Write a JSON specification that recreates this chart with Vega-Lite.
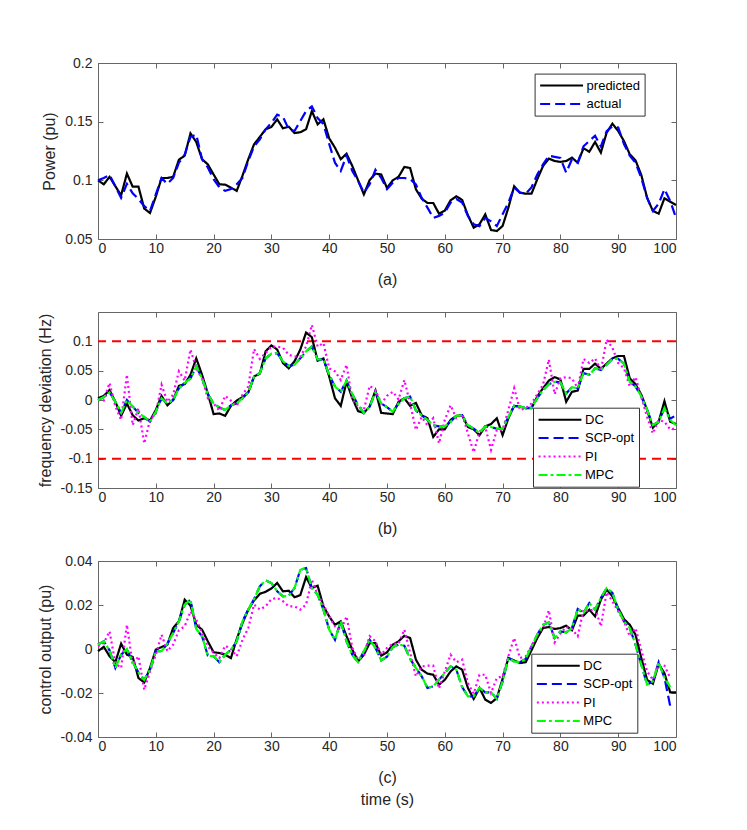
{
  "$schema": "https://vega.github.io/schema/vega-lite/v6.json",
  "background": "white",
  "padding": {"left": 36, "top": 55, "right": 10, "bottom": 10},
  "config": {
    "font": "Liberation Sans",
    "view": {"stroke": "#666666", "strokeWidth": 1},
    "axis": {
      "grid": false,
      "domain": false,
      "tickSize": -5,
      "tickColor": "#666666",
      "tickWidth": 1,
      "labelFontSize": 14,
      "labelColor": "#262626",
      "labelFont": "Liberation Sans",
      "titleFont": "Liberation Sans",
      "titleFontSize": 16,
      "titleFontWeight": "normal",
      "titleColor": "#262626"
    },
    "axisX": {"labelPadding": 7, "titlePadding": 16, "titleLineHeight": 22},
    "axisY": {"labelPadding": 11, "titlePadding": 7},
    "legend": {
      "orient": "none",
      "symbolType": "M-3.3,0H3.3",
      "symbolSize": 169,
      "symbolStrokeWidth": 2,
      "symbolOffset": 15,
      "labelFontSize": 13,
      "labelColor": "#000000",
      "labelOffset": 17.5,
      "padding": 4.5,
      "rowPadding": 3.4,
      "strokeColor": "#333333",
      "fillColor": "#ffffff"
    }
  },
  "datasets": {
    "power": [
      {"t":0,"predicted":0.1,"actual":0.1},
      {"t":1,"predicted":0.0966,"actual":0.102},
      {"t":2,"predicted":0.103,"actual":0.1045},
      {"t":3,"predicted":0.095,"actual":0.095},
      {"t":4,"predicted":0.0872,"actual":0.085},
      {"t":5,"predicted":0.1057,"actual":0.097},
      {"t":6,"predicted":0.0946,"actual":0.089},
      {"t":7,"predicted":0.0946,"actual":0.084},
      {"t":8,"predicted":0.0759,"actual":0.078},
      {"t":9,"predicted":0.0722,"actual":0.074},
      {"t":10,"predicted":0.086,"actual":0.088},
      {"t":11,"predicted":0.102,"actual":0.102},
      {"t":12,"predicted":0.102,"actual":0.097},
      {"t":13,"predicted":0.103,"actual":0.102},
      {"t":14,"predicted":0.1176,"actual":0.115},
      {"t":15,"predicted":0.121,"actual":0.122},
      {"t":16,"predicted":0.14,"actual":0.137},
      {"t":17,"predicted":0.1327,"actual":0.139},
      {"t":18,"predicted":0.118,"actual":0.118},
      {"t":19,"predicted":0.1136,"actual":0.111},
      {"t":20,"predicted":0.105,"actual":0.101},
      {"t":21,"predicted":0.0966,"actual":0.094},
      {"t":22,"predicted":0.0963,"actual":0.091},
      {"t":23,"predicted":0.0938,"actual":0.0925},
      {"t":24,"predicted":0.091,"actual":0.0966},
      {"t":25,"predicted":0.104,"actual":0.102},
      {"t":26,"predicted":0.118,"actual":0.1165},
      {"t":27,"predicted":0.1307,"actual":0.129},
      {"t":28,"predicted":0.137,"actual":0.135},
      {"t":29,"predicted":0.1435,"actual":0.1435},
      {"t":30,"predicted":0.1455,"actual":0.149},
      {"t":31,"predicted":0.152,"actual":0.156},
      {"t":32,"predicted":0.1443,"actual":0.154},
      {"t":33,"predicted":0.1457,"actual":0.1435},
      {"t":34,"predicted":0.1403,"actual":0.142},
      {"t":35,"predicted":0.141,"actual":0.1505},
      {"t":36,"predicted":0.1435,"actual":0.159},
      {"t":37,"predicted":0.159,"actual":0.163},
      {"t":38,"predicted":0.1477,"actual":0.153},
      {"t":39,"predicted":0.152,"actual":0.148},
      {"t":40,"predicted":0.1358,"actual":0.131},
      {"t":41,"predicted":0.1278,"actual":0.115},
      {"t":42,"predicted":0.118,"actual":0.108},
      {"t":43,"predicted":0.1227,"actual":0.121},
      {"t":44,"predicted":0.1122,"actual":0.108},
      {"t":45,"predicted":0.1,"actual":0.0995},
      {"t":46,"predicted":0.088,"actual":0.0895},
      {"t":47,"predicted":0.1003,"actual":0.0966},
      {"t":48,"predicted":0.1057,"actual":0.109},
      {"t":49,"predicted":0.105,"actual":0.102},
      {"t":50,"predicted":0.0935,"actual":0.0925},
      {"t":51,"predicted":0.1,"actual":0.098},
      {"t":52,"predicted":0.103,"actual":0.102},
      {"t":53,"predicted":0.1114,"actual":0.102},
      {"t":54,"predicted":0.1105,"actual":0.101},
      {"t":55,"predicted":0.0924,"actual":0.0966},
      {"t":56,"predicted":0.0844,"actual":0.085},
      {"t":57,"predicted":0.0807,"actual":0.0767},
      {"t":58,"predicted":0.0807,"actual":0.068},
      {"t":59,"predicted":0.0716,"actual":0.0697},
      {"t":60,"predicted":0.0742,"actual":0.0725},
      {"t":61,"predicted":0.083,"actual":0.081},
      {"t":62,"predicted":0.0864,"actual":0.084},
      {"t":63,"predicted":0.0833,"actual":0.081},
      {"t":64,"predicted":0.0702,"actual":0.0697},
      {"t":65,"predicted":0.0597,"actual":0.0625},
      {"t":66,"predicted":0.0625,"actual":0.061},
      {"t":67,"predicted":0.071,"actual":0.068},
      {"t":68,"predicted":0.0577,"actual":0.065},
      {"t":69,"predicted":0.0568,"actual":0.061},
      {"t":70,"predicted":0.0611,"actual":0.071},
      {"t":71,"predicted":0.0767,"actual":0.081},
      {"t":72,"predicted":0.0949,"actual":0.0938},
      {"t":73,"predicted":0.0895,"actual":0.0895},
      {"t":74,"predicted":0.0886,"actual":0.0886},
      {"t":75,"predicted":0.0886,"actual":0.094},
      {"t":76,"predicted":0.1009,"actual":0.105},
      {"t":77,"predicted":0.1122,"actual":0.1136},
      {"t":78,"predicted":0.1185,"actual":0.121},
      {"t":79,"predicted":0.1165,"actual":0.12},
      {"t":80,"predicted":0.1157,"actual":0.119},
      {"t":81,"predicted":0.1165,"actual":0.1066},
      {"t":82,"predicted":0.1193,"actual":0.118},
      {"t":83,"predicted":0.115,"actual":0.115},
      {"t":84,"predicted":0.1273,"actual":0.129},
      {"t":85,"predicted":0.1244,"actual":0.1335},
      {"t":86,"predicted":0.1327,"actual":0.138},
      {"t":87,"predicted":0.1236,"actual":0.129},
      {"t":88,"predicted":0.1406,"actual":0.142},
      {"t":89,"predicted":0.1483,"actual":0.146},
      {"t":90,"predicted":0.142,"actual":0.145},
      {"t":91,"predicted":0.1335,"actual":0.131},
      {"t":92,"predicted":0.1222,"actual":0.121},
      {"t":93,"predicted":0.117,"actual":0.115},
      {"t":94,"predicted":0.1045,"actual":0.102},
      {"t":95,"predicted":0.0852,"actual":0.085},
      {"t":96,"predicted":0.0739,"actual":0.074},
      {"t":97,"predicted":0.0716,"actual":0.08},
      {"t":98,"predicted":0.0847,"actual":0.0925},
      {"t":99,"predicted":0.0818,"actual":0.0824},
      {"t":100,"predicted":0.079,"actual":0.068}
    ],
    "freq": [
      {"t":0,"DC":0.003,"SCP-opt":0,"PI":0,"MPC":0},
      {"t":1,"DC":0.007,"SCP-opt":0.005,"PI":-0.001,"MPC":0.005},
      {"t":2,"DC":0.017,"SCP-opt":0.013,"PI":0.029,"MPC":0.013},
      {"t":3,"DC":-0.003,"SCP-opt":-0.003,"PI":-0.011,"MPC":-0.003},
      {"t":4,"DC":-0.027,"SCP-opt":-0.022,"PI":-0.034,"MPC":-0.022},
      {"t":5,"DC":-0.006,"SCP-opt":0,"PI":0.043,"MPC":0},
      {"t":6,"DC":-0.026,"SCP-opt":-0.011,"PI":-0.043,"MPC":-0.011},
      {"t":7,"DC":-0.035,"SCP-opt":-0.022,"PI":-0.014,"MPC":-0.022},
      {"t":8,"DC":-0.031,"SCP-opt":-0.029,"PI":-0.074,"MPC":-0.029},
      {"t":9,"DC":-0.035,"SCP-opt":-0.037,"PI":-0.034,"MPC":-0.037},
      {"t":10,"DC":-0.017,"SCP-opt":-0.02,"PI":-0.023,"MPC":-0.02},
      {"t":11,"DC":0.007,"SCP-opt":0.003,"PI":0.026,"MPC":0.003},
      {"t":12,"DC":-0.009,"SCP-opt":-0.006,"PI":-0.003,"MPC":-0.006},
      {"t":13,"DC":0,"SCP-opt":0,"PI":0.009,"MPC":0},
      {"t":14,"DC":0.024,"SCP-opt":0.02,"PI":0.049,"MPC":0.02},
      {"t":15,"DC":0.027,"SCP-opt":0.029,"PI":0.033,"MPC":0.029},
      {"t":16,"DC":0.043,"SCP-opt":0.037,"PI":0.086,"MPC":0.037},
      {"t":17,"DC":0.071,"SCP-opt":0.057,"PI":0.054,"MPC":0.057},
      {"t":18,"DC":0.043,"SCP-opt":0.037,"PI":0.037,"MPC":0.037},
      {"t":19,"DC":0.011,"SCP-opt":0.01,"PI":0.003,"MPC":0.01},
      {"t":20,"DC":-0.024,"SCP-opt":-0.006,"PI":-0.006,"MPC":-0.006},
      {"t":21,"DC":-0.023,"SCP-opt":-0.013,"PI":-0.018,"MPC":-0.013},
      {"t":22,"DC":-0.027,"SCP-opt":-0.017,"PI":0.007,"MPC":-0.017},
      {"t":23,"DC":-0.01,"SCP-opt":-0.009,"PI":-0.001,"MPC":-0.009},
      {"t":24,"DC":-0.001,"SCP-opt":-0.006,"PI":-0.01,"MPC":-0.006},
      {"t":25,"DC":0.005,"SCP-opt":0.003,"PI":0.009,"MPC":0.003},
      {"t":26,"DC":0.013,"SCP-opt":0.013,"PI":0.023,"MPC":0.013},
      {"t":27,"DC":0.04,"SCP-opt":0.04,"PI":0.087,"MPC":0.04},
      {"t":28,"DC":0.045,"SCP-opt":0.046,"PI":0.07,"MPC":0.046},
      {"t":29,"DC":0.083,"SCP-opt":0.071,"PI":0.08,"MPC":0.071},
      {"t":30,"DC":0.093,"SCP-opt":0.079,"PI":0.091,"MPC":0.079},
      {"t":31,"DC":0.086,"SCP-opt":0.08,"PI":0.091,"MPC":0.08},
      {"t":32,"DC":0.063,"SCP-opt":0.066,"PI":0.089,"MPC":0.066},
      {"t":33,"DC":0.054,"SCP-opt":0.058,"PI":0.077,"MPC":0.058},
      {"t":34,"DC":0.066,"SCP-opt":0.06,"PI":0.074,"MPC":0.06},
      {"t":35,"DC":0.086,"SCP-opt":0.071,"PI":0.074,"MPC":0.071},
      {"t":36,"DC":0.115,"SCP-opt":0.083,"PI":0.091,"MPC":0.083},
      {"t":37,"DC":0.107,"SCP-opt":0.091,"PI":0.128,"MPC":0.091},
      {"t":38,"DC":0.067,"SCP-opt":0.069,"PI":0.091,"MPC":0.069},
      {"t":39,"DC":0.071,"SCP-opt":0.069,"PI":0.097,"MPC":0.069},
      {"t":40,"DC":0.04,"SCP-opt":0.043,"PI":0.054,"MPC":0.043},
      {"t":41,"DC":0.003,"SCP-opt":0.023,"PI":0.049,"MPC":0.023},
      {"t":42,"DC":-0.01,"SCP-opt":0.014,"PI":0.034,"MPC":0.014},
      {"t":43,"DC":0.031,"SCP-opt":0.033,"PI":0.06,"MPC":0.033},
      {"t":44,"DC":0.003,"SCP-opt":0.01,"PI":0,"MPC":0.01},
      {"t":45,"DC":-0.019,"SCP-opt":-0.009,"PI":-0.011,"MPC":-0.009},
      {"t":46,"DC":-0.022,"SCP-opt":-0.022,"PI":-0.017,"MPC":-0.022},
      {"t":47,"DC":-0.011,"SCP-opt":-0.011,"PI":0.024,"MPC":-0.011},
      {"t":48,"DC":0.016,"SCP-opt":0.013,"PI":0.017,"MPC":0.013},
      {"t":49,"DC":-0.022,"SCP-opt":-0.006,"PI":-0.006,"MPC":-0.006},
      {"t":50,"DC":-0.023,"SCP-opt":-0.012,"PI":0.007,"MPC":-0.012},
      {"t":51,"DC":-0.024,"SCP-opt":-0.02,"PI":0.014,"MPC":-0.02},
      {"t":52,"DC":-0.003,"SCP-opt":-0.006,"PI":0.001,"MPC":-0.006},
      {"t":53,"DC":0.003,"SCP-opt":0.003,"PI":0.034,"MPC":0.003},
      {"t":54,"DC":-0.01,"SCP-opt":0.006,"PI":-0.006,"MPC":0.006},
      {"t":55,"DC":-0.005,"SCP-opt":-0.018,"PI":-0.051,"MPC":-0.018},
      {"t":56,"DC":-0.026,"SCP-opt":-0.026,"PI":-0.029,"MPC":-0.026},
      {"t":57,"DC":-0.031,"SCP-opt":-0.034,"PI":-0.043,"MPC":-0.034},
      {"t":58,"DC":-0.063,"SCP-opt":-0.043,"PI":-0.031,"MPC":-0.043},
      {"t":59,"DC":-0.05,"SCP-opt":-0.045,"PI":-0.074,"MPC":-0.045},
      {"t":60,"DC":-0.05,"SCP-opt":-0.045,"PI":-0.034,"MPC":-0.045},
      {"t":61,"DC":-0.034,"SCP-opt":-0.037,"PI":-0.009,"MPC":-0.037},
      {"t":62,"DC":-0.027,"SCP-opt":-0.027,"PI":-0.031,"MPC":-0.027},
      {"t":63,"DC":-0.026,"SCP-opt":-0.026,"PI":-0.024,"MPC":-0.026},
      {"t":64,"DC":-0.046,"SCP-opt":-0.043,"PI":-0.057,"MPC":-0.043},
      {"t":65,"DC":-0.05,"SCP-opt":-0.049,"PI":-0.089,"MPC":-0.049},
      {"t":66,"DC":-0.06,"SCP-opt":-0.056,"PI":-0.054,"MPC":-0.056},
      {"t":67,"DC":-0.045,"SCP-opt":-0.045,"PI":-0.046,"MPC":-0.045},
      {"t":68,"DC":-0.041,"SCP-opt":-0.046,"PI":-0.085,"MPC":-0.046},
      {"t":69,"DC":-0.031,"SCP-opt":-0.049,"PI":-0.051,"MPC":-0.049},
      {"t":70,"DC":-0.06,"SCP-opt":-0.049,"PI":-0.051,"MPC":-0.049},
      {"t":71,"DC":-0.031,"SCP-opt":-0.029,"PI":-0.017,"MPC":-0.029},
      {"t":72,"DC":-0.01,"SCP-opt":-0.01,"PI":0.02,"MPC":-0.01},
      {"t":73,"DC":-0.011,"SCP-opt":-0.011,"PI":-0.017,"MPC":-0.011},
      {"t":74,"DC":-0.014,"SCP-opt":-0.014,"PI":-0.014,"MPC":-0.014},
      {"t":75,"DC":-0.014,"SCP-opt":-0.013,"PI":-0.006,"MPC":-0.013},
      {"t":76,"DC":0.006,"SCP-opt":0.003,"PI":0.01,"MPC":0.003},
      {"t":77,"DC":0.02,"SCP-opt":0.017,"PI":0.026,"MPC":0.017},
      {"t":78,"DC":0.033,"SCP-opt":0.027,"PI":0.069,"MPC":0.027},
      {"t":79,"DC":0.039,"SCP-opt":0.031,"PI":0.01,"MPC":0.031},
      {"t":80,"DC":0.035,"SCP-opt":0.03,"PI":0.037,"MPC":0.03},
      {"t":81,"DC":-0.003,"SCP-opt":0.011,"PI":0.039,"MPC":0.011},
      {"t":82,"DC":0.014,"SCP-opt":0.022,"PI":0.037,"MPC":0.022},
      {"t":83,"DC":0.016,"SCP-opt":0.02,"PI":0.02,"MPC":0.02},
      {"t":84,"DC":0.053,"SCP-opt":0.046,"PI":0.07,"MPC":0.046},
      {"t":85,"DC":0.053,"SCP-opt":0.043,"PI":0.063,"MPC":0.043},
      {"t":86,"DC":0.062,"SCP-opt":0.054,"PI":0.071,"MPC":0.054},
      {"t":87,"DC":0.053,"SCP-opt":0.051,"PI":0.05,"MPC":0.051},
      {"t":88,"DC":0.062,"SCP-opt":0.06,"PI":0.103,"MPC":0.06},
      {"t":89,"DC":0.071,"SCP-opt":0.07,"PI":0.089,"MPC":0.07},
      {"t":90,"DC":0.075,"SCP-opt":0.07,"PI":0.063,"MPC":0.07},
      {"t":91,"DC":0.075,"SCP-opt":0.062,"PI":0.054,"MPC":0.062},
      {"t":92,"DC":0.037,"SCP-opt":0.031,"PI":0.023,"MPC":0.031},
      {"t":93,"DC":0.027,"SCP-opt":0.023,"PI":0.039,"MPC":0.023},
      {"t":94,"DC":0.009,"SCP-opt":0.006,"PI":0.005,"MPC":0.006},
      {"t":95,"DC":-0.017,"SCP-opt":-0.017,"PI":-0.029,"MPC":-0.017},
      {"t":96,"DC":-0.047,"SCP-opt":-0.043,"PI":-0.057,"MPC":-0.043},
      {"t":97,"DC":-0.037,"SCP-opt":-0.037,"PI":-0.034,"MPC":-0.037},
      {"t":98,"DC":-0.002,"SCP-opt":-0.014,"PI":-0.037,"MPC":-0.014},
      {"t":99,"DC":-0.037,"SCP-opt":-0.032,"PI":-0.05,"MPC":-0.034},
      {"t":100,"DC":-0.041,"SCP-opt":-0.026,"PI":-0.049,"MPC":-0.043}
    ],
    "control": [
      {"t":0,"DC":-0.001,"SCP-opt":0.002,"PI":0.0012,"MPC":0.002},
      {"t":1,"DC":0.001,"SCP-opt":0.0035,"PI":0.0027,"MPC":0.0035},
      {"t":2,"DC":-0.0033,"SCP-opt":-0.0006,"PI":0.008,"MPC":-0.0006},
      {"t":3,"DC":-0.006,"SCP-opt":-0.0086,"PI":-0.0064,"MPC":-0.0086},
      {"t":4,"DC":0.0024,"SCP-opt":-0.0026,"PI":-0.0086,"MPC":-0.0026},
      {"t":5,"DC":-0.0026,"SCP-opt":0,"PI":0.011,"MPC":0},
      {"t":6,"DC":-0.0036,"SCP-opt":-0.006,"PI":-0.0071,"MPC":-0.006},
      {"t":7,"DC":-0.0132,"SCP-opt":-0.0106,"PI":-0.0033,"MPC":-0.0106},
      {"t":8,"DC":-0.0152,"SCP-opt":-0.014,"PI":-0.0185,"MPC":-0.014},
      {"t":9,"DC":-0.0086,"SCP-opt":-0.0094,"PI":-0.0102,"MPC":-0.0094},
      {"t":10,"DC":-0.0003,"SCP-opt":-0.001,"PI":-0.0026,"MPC":-0.001},
      {"t":11,"DC":0.0009,"SCP-opt":-0.001,"PI":0.0065,"MPC":-0.001},
      {"t":12,"DC":0.002,"SCP-opt":0.0024,"PI":-0.001,"MPC":0.0024},
      {"t":13,"DC":0.0095,"SCP-opt":0.0073,"PI":0.002,"MPC":0.0073},
      {"t":14,"DC":0.0126,"SCP-opt":0.0126,"PI":0.0085,"MPC":0.0126},
      {"t":15,"DC":0.0224,"SCP-opt":0.0202,"PI":0.0103,"MPC":0.0202},
      {"t":16,"DC":0.0197,"SCP-opt":0.0224,"PI":0.0171,"MPC":0.0224},
      {"t":17,"DC":0.011,"SCP-opt":0.0091,"PI":0.0133,"MPC":0.0091},
      {"t":18,"DC":0.0088,"SCP-opt":0.0058,"PI":0.0073,"MPC":0.0058},
      {"t":19,"DC":0.0035,"SCP-opt":-0.003,"PI":0.0012,"MPC":-0.003},
      {"t":20,"DC":-0.0015,"SCP-opt":-0.0033,"PI":-0.0018,"MPC":-0.0033},
      {"t":21,"DC":-0.0018,"SCP-opt":-0.006,"PI":-0.0041,"MPC":-0.006},
      {"t":22,"DC":-0.0026,"SCP-opt":-0.0026,"PI":0.0015,"MPC":-0.0026},
      {"t":23,"DC":-0.0041,"SCP-opt":-0.0003,"PI":0,"MPC":-0.0003},
      {"t":24,"DC":0.0045,"SCP-opt":0.0035,"PI":-0.0033,"MPC":0.0035},
      {"t":25,"DC":0.0118,"SCP-opt":0.0126,"PI":0.0042,"MPC":0.0126},
      {"t":26,"DC":0.0179,"SCP-opt":0.0179,"PI":0.0095,"MPC":0.0179},
      {"t":27,"DC":0.0221,"SCP-opt":0.0227,"PI":0.0202,"MPC":0.0227},
      {"t":28,"DC":0.0251,"SCP-opt":0.0285,"PI":0.0179,"MPC":0.0285},
      {"t":29,"DC":0.026,"SCP-opt":0.0312,"PI":0.0194,"MPC":0.0312},
      {"t":30,"DC":0.0275,"SCP-opt":0.03,"PI":0.0227,"MPC":0.03},
      {"t":31,"DC":0.03,"SCP-opt":0.0262,"PI":0.0232,"MPC":0.0262},
      {"t":32,"DC":0.0262,"SCP-opt":0.0239,"PI":0.0217,"MPC":0.0239},
      {"t":33,"DC":0.0265,"SCP-opt":0.0242,"PI":0.0194,"MPC":0.0242},
      {"t":34,"DC":0.0235,"SCP-opt":0.0277,"PI":0.0194,"MPC":0.0277},
      {"t":35,"DC":0.0245,"SCP-opt":0.036,"PI":0.0179,"MPC":0.036},
      {"t":36,"DC":0.0327,"SCP-opt":0.0368,"PI":0.0202,"MPC":0.0368},
      {"t":37,"DC":0.0277,"SCP-opt":0.0277,"PI":0.0315,"MPC":0.0277},
      {"t":38,"DC":0.0288,"SCP-opt":0.0247,"PI":0.0247,"MPC":0.0247},
      {"t":39,"DC":0.0194,"SCP-opt":0.0179,"PI":0.0202,"MPC":0.0179},
      {"t":40,"DC":0.0148,"SCP-opt":0.0088,"PI":0.0148,"MPC":0.0088},
      {"t":41,"DC":0.011,"SCP-opt":0.0042,"PI":0.0103,"MPC":0.0042},
      {"t":42,"DC":0.0126,"SCP-opt":0.0126,"PI":0.0085,"MPC":0.0126},
      {"t":43,"DC":0.0058,"SCP-opt":0.0035,"PI":0.0148,"MPC":0.0035},
      {"t":44,"DC":-0.0003,"SCP-opt":-0.0026,"PI":0.0005,"MPC":-0.0026},
      {"t":45,"DC":-0.0056,"SCP-opt":-0.006,"PI":-0.0048,"MPC":-0.006},
      {"t":46,"DC":-0.0026,"SCP-opt":-0.001,"PI":-0.0026,"MPC":-0.001},
      {"t":47,"DC":0.0027,"SCP-opt":0.0042,"PI":0.0058,"MPC":0.0042},
      {"t":48,"DC":0.0027,"SCP-opt":0.0005,"PI":0.0035,"MPC":0.0005},
      {"t":49,"DC":-0.003,"SCP-opt":-0.0052,"PI":-0.0026,"MPC":-0.0052},
      {"t":50,"DC":-0.0015,"SCP-opt":-0.0035,"PI":0.0005,"MPC":-0.0035},
      {"t":51,"DC":0.002,"SCP-opt":0.0009,"PI":0.0024,"MPC":0.0009},
      {"t":52,"DC":0.0035,"SCP-opt":0.002,"PI":0.0024,"MPC":0.002},
      {"t":53,"DC":0.006,"SCP-opt":0.0015,"PI":0.0088,"MPC":0.0015},
      {"t":54,"DC":0.005,"SCP-opt":-0.0045,"PI":-0.0018,"MPC":-0.0045},
      {"t":55,"DC":-0.0048,"SCP-opt":-0.0086,"PI":-0.0124,"MPC":-0.0086},
      {"t":56,"DC":-0.0094,"SCP-opt":-0.0124,"PI":-0.0079,"MPC":-0.0124},
      {"t":57,"DC":-0.0112,"SCP-opt":-0.0177,"PI":-0.0076,"MPC":-0.0177},
      {"t":58,"DC":-0.0117,"SCP-opt":-0.017,"PI":-0.0076,"MPC":-0.017},
      {"t":59,"DC":-0.0162,"SCP-opt":-0.014,"PI":-0.018,"MPC":-0.014},
      {"t":60,"DC":-0.014,"SCP-opt":-0.0109,"PI":-0.0102,"MPC":-0.0109},
      {"t":61,"DC":-0.0102,"SCP-opt":-0.0079,"PI":-0.0026,"MPC":-0.0079},
      {"t":62,"DC":-0.0079,"SCP-opt":-0.0094,"PI":-0.006,"MPC":-0.0094},
      {"t":63,"DC":-0.0094,"SCP-opt":-0.0173,"PI":-0.0048,"MPC":-0.0173},
      {"t":64,"DC":-0.0177,"SCP-opt":-0.0215,"PI":-0.0155,"MPC":-0.0215},
      {"t":65,"DC":-0.0227,"SCP-opt":-0.0215,"PI":-0.0203,"MPC":-0.0215},
      {"t":66,"DC":-0.0177,"SCP-opt":-0.0177,"PI":-0.0117,"MPC":-0.0177},
      {"t":67,"DC":-0.023,"SCP-opt":-0.0197,"PI":-0.0117,"MPC":-0.0197},
      {"t":68,"DC":-0.0245,"SCP-opt":-0.0197,"PI":-0.02,"MPC":-0.0197},
      {"t":69,"DC":-0.0223,"SCP-opt":-0.0227,"PI":-0.0132,"MPC":-0.0227},
      {"t":70,"DC":-0.0136,"SCP-opt":-0.0147,"PI":-0.0124,"MPC":-0.0147},
      {"t":71,"DC":-0.0041,"SCP-opt":-0.0041,"PI":-0.0033,"MPC":-0.0041},
      {"t":72,"DC":-0.0052,"SCP-opt":-0.0056,"PI":0.005,"MPC":-0.0056},
      {"t":73,"DC":-0.0064,"SCP-opt":-0.006,"PI":-0.0041,"MPC":-0.006},
      {"t":74,"DC":-0.006,"SCP-opt":-0.0045,"PI":-0.0033,"MPC":-0.0045},
      {"t":75,"DC":-0.0006,"SCP-opt":0.0012,"PI":0.0012,"MPC":0.0012},
      {"t":76,"DC":0.005,"SCP-opt":0.0065,"PI":0.0065,"MPC":0.0065},
      {"t":77,"DC":0.0095,"SCP-opt":0.011,"PI":0.0095,"MPC":0.011},
      {"t":78,"DC":0.01,"SCP-opt":0.0121,"PI":0.0176,"MPC":0.0121},
      {"t":79,"DC":0.0091,"SCP-opt":0.005,"PI":0.003,"MPC":0.005},
      {"t":80,"DC":0.0095,"SCP-opt":0.008,"PI":0.007,"MPC":0.008},
      {"t":81,"DC":0.0106,"SCP-opt":0.0076,"PI":0.01,"MPC":0.0076},
      {"t":82,"DC":0.0085,"SCP-opt":0.0095,"PI":0.0091,"MPC":0.0095},
      {"t":83,"DC":0.0152,"SCP-opt":0.0182,"PI":0.0058,"MPC":0.0182},
      {"t":84,"DC":0.0152,"SCP-opt":0.0164,"PI":0.0179,"MPC":0.0164},
      {"t":85,"DC":0.0179,"SCP-opt":0.0209,"PI":0.0171,"MPC":0.0209},
      {"t":86,"DC":0.0148,"SCP-opt":0.0179,"PI":0.0186,"MPC":0.0179},
      {"t":87,"DC":0.0224,"SCP-opt":0.0232,"PI":0.0103,"MPC":0.0232},
      {"t":88,"DC":0.027,"SCP-opt":0.0277,"PI":0.0258,"MPC":0.0277},
      {"t":89,"DC":0.0239,"SCP-opt":0.0255,"PI":0.0217,"MPC":0.0255},
      {"t":90,"DC":0.0186,"SCP-opt":0.0179,"PI":0.0171,"MPC":0.0179},
      {"t":91,"DC":0.0136,"SCP-opt":0.0126,"PI":0.0126,"MPC":0.0126},
      {"t":92,"DC":0.011,"SCP-opt":0.0095,"PI":0.0058,"MPC":0.0095},
      {"t":93,"DC":0.0065,"SCP-opt":0.002,"PI":0.0095,"MPC":0.002},
      {"t":94,"DC":-0.0041,"SCP-opt":-0.0071,"PI":-0.0006,"MPC":-0.0071},
      {"t":95,"DC":-0.014,"SCP-opt":-0.0162,"PI":-0.0102,"MPC":-0.0162},
      {"t":96,"DC":-0.0158,"SCP-opt":-0.0147,"PI":-0.014,"MPC":-0.0147},
      {"t":97,"DC":-0.0067,"SCP-opt":-0.006,"PI":-0.0071,"MPC":-0.006},
      {"t":98,"DC":-0.011,"SCP-opt":-0.013,"PI":-0.0076,"MPC":-0.013},
      {"t":99,"DC":-0.0197,"SCP-opt":-0.026,"PI":-0.0132,"MPC":-0.0173},
      {"t":100,"DC":-0.0197,"SCP-opt":null,"PI":null,"MPC":null}
    ],
    "limits": [{"lim": 0.1}, {"lim": -0.1}]
  },
  "spacing": 73,
  "bounds": "flush",
  "resolve": {
    "scale": {"color": "independent", "strokeDash": "independent"},
    "legend": {"color": "independent", "strokeDash": "independent"}
  },
  "vconcat": [
    {
      "width": 578,
      "height": 176,
      "data": {"name": "power"},
      "transform": [{"fold": ["predicted", "actual"], "as": ["series", "v"]}],
      "layer": [
        {
          "mark": {"type": "line", "strokeWidth": 2.2},
          "encoding": {
            "x": {"field": "t", "type": "quantitative", "scale": {"domain": [0, 100], "nice": false},
                  "axis": {"values": [0,10,20,30,40,50,60,70,80,90,100], "title": "(a)"}},
            "y": {"field": "v", "type": "quantitative", "scale": {"domain": [0.05, 0.2], "nice": false, "zero": false},
                  "axis": {"values": [0.05,0.1,0.15,0.2], "labelExpr": "'' + datum.value", "title": "Power (pu)"}},
            "color": {"field": "series", "type": "nominal",
                      "scale": {"domain": ["predicted", "actual"], "range": ["#000000", "#0000ff"]},
                      "legend": {"title": null, "legendX": 436.6, "legendY": 10.6}},
            "strokeDash": {"field": "series", "type": "nominal",
                      "scale": {"domain": ["predicted", "actual"], "range": [[1, 0], [10, 5]]},
                      "legend": {"title": null, "legendX": 436.6, "legendY": 10.6}}
          }
        },
        {
          "mark": {"type": "point", "opacity": 0},
          "encoding": {
            "x": {"field": "t", "type": "quantitative", "axis": {"orient": "top", "labels": false, "title": null, "values": [0,10,20,30,40,50,60,70,80,90,100]}},
            "y": {"field": "v", "type": "quantitative", "axis": {"orient": "right", "labels": false, "title": null, "values": [0.05,0.1,0.15,0.2]}}
          }
        }
      ],
      "resolve": {"axis": {"x": "independent", "y": "independent"}}
    },
    {
      "width": 578,
      "height": 176,
      "layer": [
        {
          "data": {"name": "limits"},
          "mark": {"type": "rule", "color": "#ff0000", "strokeWidth": 2, "strokeDash": [9, 6]},
          "encoding": {
            "y": {"field": "lim", "type": "quantitative", "axis": null}
          }
        },
        {
          "data": {"name": "freq"},
          "transform": [{"fold": ["DC", "SCP-opt", "PI", "MPC"], "as": ["series", "v"]}],
          "mark": {"type": "line", "strokeWidth": 2.2},
          "encoding": {
            "x": {"field": "t", "type": "quantitative", "scale": {"domain": [0, 100], "nice": false},
                  "axis": {"values": [0,10,20,30,40,50,60,70,80,90,100], "title": "(b)"}},
            "y": {"field": "v", "type": "quantitative", "scale": {"domain": [-0.15, 0.15], "nice": false, "zero": false},
                  "axis": {"values": [-0.15,-0.1,-0.05,0,0.05,0.1], "labelExpr": "'' + datum.value", "title": "frequency deviation (Hz)"}},
            "color": {"field": "series", "type": "nominal",
                      "scale": {"domain": ["DC", "SCP-opt", "PI", "MPC"], "range": ["#000000", "#0000ff", "#ff00ff", "#00ff00"]},
                      "legend": {"title": null, "legendX": 435, "legendY": 95.7}},
            "strokeDash": {"field": "series", "type": "nominal",
                      "scale": {"domain": ["DC", "SCP-opt", "PI", "MPC"], "range": [[1, 0], [10, 5], [2, 3], [9, 3, 3, 3]]},
                      "legend": {"title": null, "legendX": 435, "legendY": 95.7}}
          }
        },
        {
          "data": {"name": "freq"},
          "transform": [{"fold": ["DC"], "as": ["series", "v"]}],
          "mark": {"type": "point", "opacity": 0},
          "encoding": {
            "x": {"field": "t", "type": "quantitative", "axis": {"orient": "top", "labels": false, "title": null, "values": [0,10,20,30,40,50,60,70,80,90,100]}},
            "y": {"field": "v", "type": "quantitative", "axis": {"orient": "right", "labels": false, "title": null, "values": [-0.1,-0.05,0,0.05,0.1]}}
          }
        }
      ],
      "resolve": {"axis": {"x": "independent", "y": "independent"}}
    },
    {
      "width": 578,
      "height": 176,
      "data": {"name": "control"},
      "transform": [{"fold": ["DC", "SCP-opt", "PI", "MPC"], "as": ["series", "v"]}],
      "layer": [
        {
          "mark": {"type": "line", "strokeWidth": 2.2},
          "encoding": {
            "x": {"field": "t", "type": "quantitative", "scale": {"domain": [0, 100], "nice": false},
                  "axis": {"values": [0,10,20,30,40,50,60,70,80,90,100], "title": ["(c)", "time (s)"]}},
            "y": {"field": "v", "type": "quantitative", "scale": {"domain": [-0.04, 0.04], "nice": false, "zero": false},
                  "axis": {"values": [-0.04,-0.02,0,0.02,0.04], "labelExpr": "'' + datum.value", "title": "control output (pu)"}},
            "color": {"field": "series", "type": "nominal",
                      "scale": {"domain": ["DC", "SCP-opt", "PI", "MPC"], "range": ["#000000", "#0000ff", "#ff00ff", "#00ff00"]},
                      "legend": {"title": null, "legendX": 433.3, "legendY": 92.7}},
            "strokeDash": {"field": "series", "type": "nominal",
                      "scale": {"domain": ["DC", "SCP-opt", "PI", "MPC"], "range": [[1, 0], [10, 5], [2, 3], [9, 3, 3, 3]]},
                      "legend": {"title": null, "legendX": 433.3, "legendY": 92.7}}
          }
        },
        {
          "mark": {"type": "point", "opacity": 0},
          "encoding": {
            "x": {"field": "t", "type": "quantitative", "axis": {"orient": "top", "labels": false, "title": null, "values": [0,10,20,30,40,50,60,70,80,90,100]}},
            "y": {"field": "v", "type": "quantitative", "axis": {"orient": "right", "labels": false, "title": null, "values": [-0.02,0,0.02]}}
          }
        }
      ],
      "resolve": {"axis": {"x": "independent", "y": "independent"}}
    }
  ]
}
